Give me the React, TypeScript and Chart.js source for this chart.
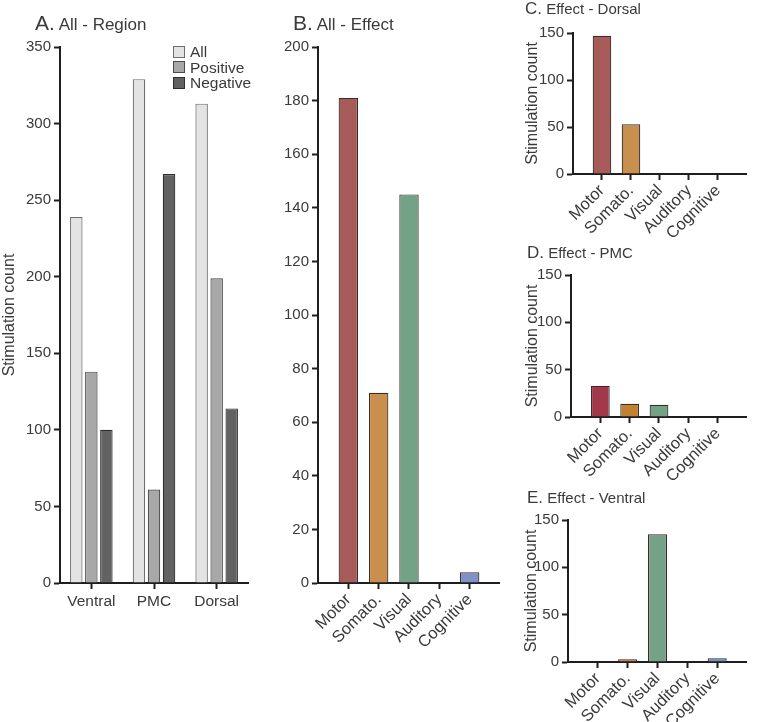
import React, { useEffect, useRef } from 'react';
import { Chart, registerables } from 'chart.js';

Chart.register(...registerables);

const FONT = '"Liberation Sans", Arial, Helvetica, sans-serif';
const TEXT = '#3a3a3a';
const AXIS = '#1e1e1e';

// ---- Panel A data ----
const regionCategories = ['Ventral', 'PMC', 'Dorsal'];
const regionSeries = ['All', 'Positive', 'Negative'];
const regionAll = [239, 329, 313];
const regionPositive = [138, 61, 199];
const regionNegative = [100, 267, 114];
const regionFill = ['#e3e3e3', '#a8a8a8', '#626262'];
const regionBorder = ['#6e6e6e', '#4a4a4a', '#2e2e2e'];
const regionTicks = [0, 50, 100, 150, 200, 250, 300, 350];

// ---- Effect panels data ----
const effectCategories = ['Motor', 'Somato.', 'Visual', 'Auditory', 'Cognitive'];
const effectAll = [181, 71, 145, 0, 4];
const effectDorsal = [147, 53, 0, 0, 0];
const effectPMC = [33, 14, 13, 0, 0];
const effectVentral = [0, 3, 135, 0, 4];
const effectColors = ['#a85c59', '#c98f4f', '#74a286', '#9a9a9a', '#8091c9'];
const effectColorsPMC = ['#a3384b', '#c2812f', '#74a286', '#9a9a9a', '#8091c9'];
const effectColorsVentral = ['#a85c59', '#c26a32', '#74a286', '#9a9a9a', '#6f90c6'];

type Cfg = any;

function yScale(max: number, step: number, width: number, title?: string, titlePad = 0): Cfg {
  return {
    min: 0,
    max,
    ticks: { stepSize: step, color: TEXT, font: { family: FONT, size: 15 }, padding: 3 },
    grid: { drawOnChartArea: false, drawTicks: true, tickLength: 6, tickWidth: 2, tickColor: AXIS },
    border: { display: true, color: AXIS, width: 2 },
    title: title
      ? { display: true, text: title, color: TEXT, font: { family: FONT, size: 16 }, padding: { top: titlePad, bottom: 0 } }
      : { display: false },
    afterFit: (s: any) => {
      s.width = width;
    },
  };
}

function xEffectScale(height: number, nLabels: number): Cfg {
  return {
    offset: false,
    ticks: {
      autoSkip: false,
      minRotation: 45,
      maxRotation: 45,
      color: TEXT,
      font: { family: FONT, size: 16.5 },
      padding: 1,
    },
    grid: {
      offset: false,
      drawOnChartArea: false,
      drawTicks: true,
      tickLength: 6,
      tickWidth: 2,
      tickColor: (ctx: any) => (ctx.index === 0 || ctx.index === nLabels - 1 ? 'rgba(0,0,0,0)' : AXIS),
    },
    border: { display: true, color: AXIS, width: 2 },
    afterFit: (s: any) => {
      s.height = height;
    },
  };
}

interface EffectProps {
  values: number[];
  colors: string[];
  max: number;
  step: number;
  left: number;
  top: number;
  w: number;
  h: number;
  yWidth: number;
  xHeight: number;
  padTop: number;
  padRight: number;
  yTitle?: string;
  titlePad?: number;
}

function EffectChart(p: EffectProps) {
  const ref = useRef<HTMLCanvasElement | null>(null);
  useEffect(() => {
    if (!ref.current) return;
    const labels = ['', ...effectCategories, ''];
    const data = [null, ...p.values, null];
    const bg = ['rgba(0,0,0,0)', ...p.colors, 'rgba(0,0,0,0)'];
    const chart = new Chart(ref.current, {
      type: 'bar',
      data: {
        labels,
        datasets: [
          {
            label: 'Stimulation count',
            data: data as any,
            backgroundColor: bg,
            borderColor: '#3a2c2c',
            borderWidth: 1.2,
            barPercentage: 0.64,
            categoryPercentage: 1,
          },
        ],
      },
      options: {
        responsive: false,
        animation: false,
        layout: { padding: { top: p.padTop, right: p.padRight, left: 0, bottom: 0 } },
        plugins: { legend: { display: false }, tooltip: { enabled: false } },
        scales: {
          x: xEffectScale(p.xHeight, labels.length),
          y: yScale(p.max, p.step, p.yWidth, p.yTitle, p.titlePad ?? 0),
        },
      } as any,
    });
    return () => chart.destroy();
  }, []);
  return (
    <canvas
      ref={ref}
      width={p.w}
      height={p.h}
      style={{ position: 'absolute', left: p.left, top: p.top, width: p.w, height: p.h }}
    />
  );
}

function RegionChart() {
  const ref = useRef<HTMLCanvasElement | null>(null);
  useEffect(() => {
    if (!ref.current) return;
    const series = [regionAll, regionPositive, regionNegative];
    const chart = new Chart(ref.current, {
      type: 'bar',
      data: {
        labels: regionCategories,
        datasets: regionSeries.map((name, i) => ({
          label: name,
          data: series[i],
          backgroundColor: regionFill[i],
          borderColor: regionBorder[i],
          borderWidth: 1.2,
          barPercentage: 0.83,
          categoryPercentage: 0.72,
        })),
      },
      options: {
        responsive: false,
        animation: false,
        layout: { padding: { top: 17, right: 14, left: 0, bottom: 0 } },
        plugins: { legend: { display: false }, tooltip: { enabled: false } },
        scales: {
          x: {
            offset: true,
            ticks: { autoSkip: false, maxRotation: 0, color: TEXT, font: { family: FONT, size: 15.5 }, padding: 3 },
            grid: { offset: false, drawOnChartArea: false, drawTicks: true, tickLength: 6, tickWidth: 2, tickColor: AXIS },
            border: { display: true, color: AXIS, width: 2 },
            afterFit: (s: any) => {
              s.height = 67;
            },
          },
          y: {
            ...yScale(regionTicks[regionTicks.length - 1], regionTicks[1] - regionTicks[0], 60, 'Stimulation count', 0),
          },
        },
      } as any,
    });
    return () => chart.destroy();
  }, []);
  return (
    <canvas ref={ref} width={262} height={620} style={{ position: 'absolute', left: 0, top: 30, width: 262, height: 620 }} />
  );
}

function Title(props: { left: number; top: number; letter: string; text: string; big: number; small: number }) {
  return (
    <div
      style={{
        position: 'absolute',
        left: props.left,
        top: props.top,
        fontFamily: FONT,
        color: TEXT,
        fontSize: props.big,
        lineHeight: `${Math.round(props.big * 1.15)}px`,
        whiteSpace: 'nowrap',
      }}
    >
      <span style={{ fontSize: props.big }}>{props.letter}</span>
      <span style={{ fontSize: props.small }}> {props.text}</span>
    </div>
  );
}

function RegionLegend() {
  return (
    <div style={{ position: 'absolute', left: 173, top: 44, fontFamily: FONT, color: TEXT, fontSize: 15.5 }}>
      {regionSeries.map((name, i) => (
        <div key={name} style={{ display: 'flex', alignItems: 'center', height: 15.5 }}>
          <div
            style={{
              width: 10,
              height: 10,
              background: regionFill[i],
              border: `1px solid ${regionBorder[i]}`,
              marginRight: 5,
            }}
          />
          <span style={{ lineHeight: '15.5px' }}>{name}</span>
        </div>
      ))}
    </div>
  );
}

export default function App() {
  return (
    <div style={{ position: 'absolute', left: 0, top: 0, width: 762, height: 722, background: '#ffffff', overflow: 'hidden' }}>
      <RegionChart />
      <EffectChart
        values={effectAll}
        colors={effectColors}
        max={200}
        step={20}
        left={270}
        top={30}
        w={245}
        h={640}
        yWidth={48}
        xHeight={87}
        padTop={17}
        padRight={8}
      />
      <EffectChart
        values={effectDorsal}
        colors={effectColors}
        max={150}
        step={50}
        left={523}
        top={18}
        w={239}
        h={240}
        yWidth={50}
        xHeight={84}
        padTop={15}
        padRight={2}
        yTitle="Stimulation count"
      />
      <EffectChart
        values={effectPMC}
        colors={effectColorsPMC}
        max={150}
        step={50}
        left={523}
        top={260}
        w={239}
        h={240}
        yWidth={48}
        xHeight={83}
        padTop={15}
        padRight={2}
        yTitle="Stimulation count"
      />
      <EffectChart
        values={effectVentral}
        colors={effectColorsVentral}
        max={150}
        step={50}
        left={520}
        top={505}
        w={242}
        h={217}
        yWidth={48}
        xHeight={60}
        padTop={15}
        padRight={2}
        yTitle="Stimulation count"
        titlePad={2}
      />
      <RegionLegend />
      <Title left={35} top={11} letter="A." text="All - Region" big={21} small={17} />
      <Title left={293} top={11} letter="B." text="All - Effect" big={21} small={17} />
      <Title left={525} top={-1} letter="C." text="Effect - Dorsal" big={17} small={15} />
      <Title left={527} top={243} letter="D." text="Effect - PMC" big={17} small={15} />
      <Title left={527} top={488} letter="E." text="Effect - Ventral" big={17} small={15} />
    </div>
  );
}
